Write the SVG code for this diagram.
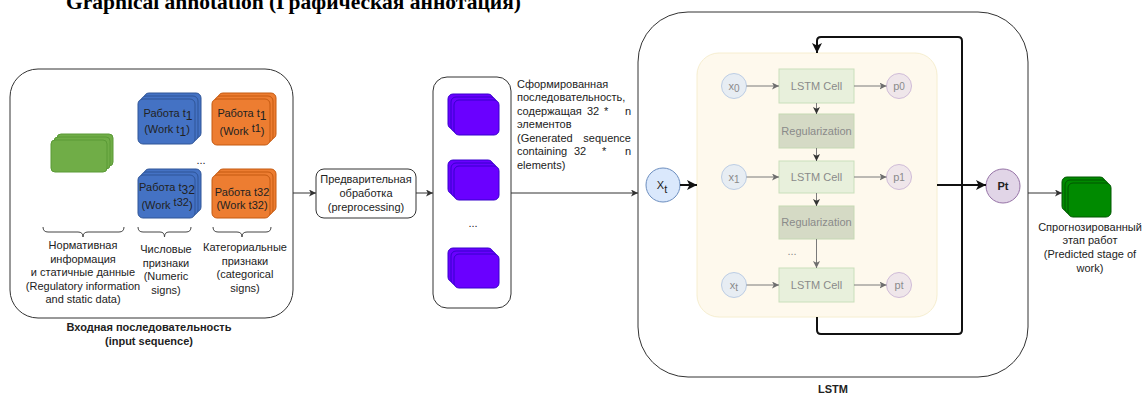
<svg xmlns="http://www.w3.org/2000/svg" width="1146" height="394" viewBox="0 0 1146 394">
  <style>
    .t { font-family: "Liberation Sans", Arial, sans-serif; font-size: 11px; fill: #222; }
    .c { text-anchor: middle; }
    .b { font-weight: bold; }
    .box { fill: #fff; stroke: #333; stroke-width: 1; }
    .ln { fill: none; stroke: #333; stroke-width: 1; }
    .thick { fill: none; stroke: #111; stroke-width: 2; }
    .gray { fill: none; stroke: #7a7a7a; stroke-width: 1; }
    .brace { fill: none; stroke: #444; stroke-width: 1; }
    .blue rect { fill: #4472c4; stroke: #2f5597; }
    .orange rect { fill: #ed7d31; stroke: #c55a11; }
    .green rect { fill: #70ad47; stroke: #5a9a36; }
    .purple rect { fill: #6a00ff; stroke: #3700cc; }
    .dkgreen rect { fill: #008a00; stroke: #005700; }
    .cell { fill: #e8f0dc; stroke: #c9e0bc; }
    .reg { fill: #d5dac5; stroke: #c5d9b4; }
    .xc { fill: #e7edf3; stroke: #bccde4; }
    .pc { fill: #efe6ea; stroke: #d0bcd8; }
    .ft { font-family: "Liberation Sans", Arial, sans-serif; font-size: 11px; fill: #8a8a8a; text-anchor: middle; }
  </style>
  <defs>
    <marker id="arr" markerUnits="userSpaceOnUse" markerWidth="8" markerHeight="8" refX="7" refY="3.5" orient="auto">
      <path d="M0,0 L7,3.5 L0,7 L1.8,3.5 z" fill="#333"/>
    </marker>
    <marker id="arrG" markerUnits="userSpaceOnUse" markerWidth="8" markerHeight="8" refX="7" refY="3.5" orient="auto">
      <path d="M0,0 L7,3.5 L0,7 L1.8,3.5 z" fill="#6e6e6e"/>
    </marker>
    <marker id="arrB" markerUnits="userSpaceOnUse" markerWidth="12" markerHeight="12" refX="10" refY="5" orient="auto">
      <path d="M0,0 L10,5 L0,10 L2.5,5 z" fill="#111"/>
    </marker>
  </defs>

  <!-- heading, partly above the page edge -->
  <text x="66" y="9" font-family="Liberation Serif, Times New Roman, serif" font-size="21.5" font-weight="bold" fill="#000">Graphical annotation (Графическая аннотация)</text>

  <!-- input sequence container -->
  <g id="input-sequence">
    <rect class="box" x="10" y="69" width="283" height="249" rx="28"/>
    <text class="t c b" x="149" y="331">Входная последовательность</text>
    <text class="t c b" x="149" y="345">(input sequence)</text>
  </g>

  <g id="static-data" class="green">
    <rect x="57" y="134" width="56" height="32" rx="4"/>
    <rect x="54" y="137" width="56" height="32" rx="4"/>
    <rect x="51" y="140" width="56" height="32" rx="4"/>
  </g>

  <g id="numeric-t1">
    <g class="blue">
      <rect x="144" y="93" width="57" height="45" rx="5"/>
      <rect x="141" y="96" width="57" height="45" rx="5"/>
      <rect x="138" y="99" width="57" height="45" rx="5"/>
    </g>
    <text class="t c" x="168" y="117">Работа t<tspan dy="3" font-size="12">1</tspan></text>
    <text class="t c" x="167" y="133">(Work t<tspan dy="3" font-size="12">1</tspan><tspan dy="-3">)</tspan></text>
  </g>

  <g id="numeric-t32">
    <g class="blue">
      <rect x="144" y="169" width="57" height="43" rx="5"/>
      <rect x="141" y="172" width="57" height="43" rx="5"/>
      <rect x="138" y="175" width="57" height="43" rx="5"/>
    </g>
    <text class="t c" x="167" y="191">Работа t<tspan dy="3" font-size="12">32</tspan></text>
    <text class="t c" x="167" y="209">(Work <tspan dy="-3">t32</tspan><tspan dy="3">)</tspan></text>
  </g>

  <g id="categorical-t1">
    <g class="orange">
      <rect x="218" y="93" width="58" height="46" rx="5"/>
      <rect x="215" y="96" width="58" height="46" rx="5"/>
      <rect x="212" y="99" width="58" height="46" rx="5"/>
    </g>
    <text class="t c" x="242" y="117">Работа t<tspan dy="3" font-size="12">1</tspan></text>
    <text class="t c" x="242" y="135">(Work <tspan dy="-3">t1</tspan><tspan dy="3">)</tspan></text>
  </g>

  <g id="categorical-t32">
    <g class="orange">
      <rect x="218" y="169" width="58" height="43" rx="5"/>
      <rect x="215" y="172" width="58" height="43" rx="5"/>
      <rect x="212" y="175" width="58" height="43" rx="5"/>
    </g>
    <text class="t c" x="242" y="196" font-size="12">Работа t32</text>
    <text class="t c" x="242" y="209" font-size="12">(Work t32)</text>
  </g>

  <text class="t c" x="201" y="164" font-size="9">...</text>

  <!-- braces and group captions -->
  <g id="static-caption">
    <path class="brace" d="M43,227 q0,5 5,5 h30 q5,0 5,5 q0,-5 5,-5 h31 q5,0 5,-5"/>
    <text class="t c" x="83" y="249">Нормативная</text>
    <text class="t c" x="83" y="263">информация</text>
    <text class="t c" x="83" y="276">и статичные данные</text>
    <text class="t c" x="83" y="290">(Regulatory information</text>
    <text class="t c" x="83" y="303">and static data)</text>
  </g>
  <g id="numeric-caption">
    <path class="brace" d="M138,227 q0,5 5,5 h17 q4.5,0 4.5,5 q0,-5 4.5,-5 h17 q5,0 5,-5"/>
    <text class="t c" x="166" y="253">Числовые</text>
    <text class="t c" x="166" y="267">признаки</text>
    <text class="t c" x="166" y="280">(Numeric</text>
    <text class="t c" x="166" y="294">signs)</text>
  </g>
  <g id="categorical-caption">
    <path class="brace" d="M213,227 q0,5 5,5 h19 q5,0 5,5 q0,-5 5,-5 h19 q5,0 5,-5"/>
    <text class="t c" x="245" y="251">Категориальные</text>
    <text class="t c" x="245" y="265">признаки</text>
    <text class="t c" x="245" y="278">(categorical</text>
    <text class="t c" x="245" y="292">signs)</text>
  </g>

  <!-- preprocessing step -->
  <g id="preprocessing">
    <rect class="box" x="316" y="169" width="100" height="49" rx="8"/>
    <text class="t c" x="366" y="183">Предварительная</text>
    <text class="t c" x="366" y="197">обработка</text>
    <text class="t c" x="366" y="211">(preprocessing)</text>
  </g>

  <!-- generated sequence -->
  <g id="generated-sequence">
    <rect class="box" x="433" y="77" width="78" height="231" rx="14"/>
    <g class="purple">
      <rect x="448" y="94" width="45" height="35" rx="5"/>
      <rect x="451" y="97" width="45" height="35" rx="5"/>
      <rect x="454" y="100" width="45" height="35" rx="5"/>
      <rect x="448" y="160" width="45" height="34" rx="5"/>
      <rect x="451" y="163" width="45" height="34" rx="5"/>
      <rect x="454" y="166" width="45" height="34" rx="5"/>
      <rect x="448" y="248" width="45" height="34" rx="5"/>
      <rect x="451" y="251" width="45" height="34" rx="5"/>
      <rect x="454" y="254" width="45" height="34" rx="5"/>
    </g>
    <text class="t c" x="473" y="227" font-size="9">...</text>
  </g>

  <g id="sequence-caption">
    <text class="t" x="517" y="88">Сформированная</text>
    <text class="t" x="517" y="101">последовательность,</text>
    <text class="t" x="517" y="115">содержащая</text>
    <text class="t" x="587" y="115">32</text>
    <text class="t" x="604" y="115">*</text>
    <text class="t" x="625" y="115">n</text>
    <text class="t" x="517" y="128">элементов</text>
    <text class="t" x="517" y="142">(Generated</text>
    <text class="t" x="631" y="142" text-anchor="end">sequence</text>
    <text class="t" x="517" y="155">containing</text>
    <text class="t" x="574" y="155">32</text>
    <text class="t" x="602" y="155">*</text>
    <text class="t" x="625" y="155">n</text>
    <text class="t" x="517" y="169">elements)</text>
  </g>

  <!-- LSTM block -->
  <g id="lstm">
    <rect class="box" x="638" y="12" width="390" height="365" rx="50"/>
    <text class="t c b" x="833" y="393">LSTM</text>
  </g>

  <g id="unrolled-cells">
    <rect x="697" y="53" width="240" height="264" rx="22" fill="#fef9ed" stroke="#f6eed0"/>
  </g>

  <g id="x0"><circle class="xc" cx="734" cy="86" r="12.5"/><text class="ft" x="734" y="90">x<tspan dy="2" font-size="10">0</tspan></text></g>
  <g id="x1"><circle class="xc" cx="734" cy="177" r="12.5"/><text class="ft" x="734" y="181">x<tspan dy="2" font-size="10">1</tspan></text></g>
  <g id="xt-small"><circle class="xc" cx="734" cy="285" r="12.5"/><text class="ft" x="734" y="289">x<tspan dy="2" font-size="10">t</tspan></text></g>

  <g id="cell-0"><rect class="cell" x="779" y="69" width="75" height="34"/><text class="ft" x="816.5" y="90">LSTM Cell</text></g>
  <g id="reg-0"><rect class="reg" x="779" y="114" width="75" height="34"/><text class="ft" x="816.5" y="135">Regularization</text></g>
  <g id="cell-1"><rect class="cell" x="779" y="161" width="75" height="32"/><text class="ft" x="816.5" y="181">LSTM Cell</text></g>
  <g id="reg-1"><rect class="reg" x="779" y="206" width="75" height="33"/><text class="ft" x="816.5" y="226">Regularization</text></g>
  <g id="cell-t"><rect class="cell" x="779" y="268" width="75" height="34"/><text class="ft" x="816.5" y="289">LSTM Cell</text></g>
  <text class="ft" x="792" y="255" font-size="8">...</text>

  <g id="p0"><circle class="pc" cx="899" cy="86" r="12.5"/><text class="ft" x="899" y="90">p<tspan font-size="10">0</tspan></text></g>
  <g id="p1"><circle class="pc" cx="899" cy="177" r="12.5"/><text class="ft" x="899" y="181">p<tspan font-size="10">1</tspan></text></g>
  <g id="pt-small"><circle class="pc" cx="899" cy="285" r="12.5"/><text class="ft" x="899" y="289">p<tspan font-size="10">t</tspan></text></g>

  <g id="xt">
    <circle cx="663" cy="185" r="17" fill="#dae8fc" stroke="#6c8ebf"/>
    <text class="t c" x="662" y="189" font-size="13" fill="#000">X<tspan dy="4" font-size="11">t</tspan></text>
  </g>

  <g id="pt">
    <circle cx="1003" cy="186" r="17" fill="#e1d5e7" stroke="#9673a6"/>
    <text class="t c" x="1003" y="190" font-size="11" font-weight="bold" fill="#333">Pt</text>
  </g>

  <g id="predicted-stage">
    <g class="dkgreen">
      <rect x="1062" y="177" width="43" height="34" rx="5"/>
      <rect x="1065" y="180" width="43" height="34" rx="5"/>
      <rect x="1068" y="183" width="43" height="34" rx="5"/>
    </g>
    <text class="t c" x="1090" y="231">Спрогнозированный</text>
    <text class="t c" x="1090" y="244">этап работ</text>
    <text class="t c" x="1090" y="258">(Predicted stage of</text>
    <text class="t c" x="1090" y="272">work)</text>
  </g>

  <!-- connectors -->
  <g id="connectors">
    <path class="ln" d="M293,193 H316" marker-end="url(#arr)"/>
    <path class="ln" d="M416,193 H433" marker-end="url(#arr)"/>
    <path class="ln" d="M511,193 H638" marker-end="url(#arr)"/>
    <path class="ln" d="M1028,193 H1062" marker-end="url(#arr)"/>
    <path class="thick" d="M680,185 H697" marker-end="url(#arrB)"/>
    <path class="thick" d="M937,185 H986" marker-end="url(#arrB)"/>
    <path class="thick" d="M817,317 V330 q0,4 4,4 H958 q4,0 4,-4 V41 q0,-4 -4,-4 H821 q-4,0 -4,4 V53" marker-end="url(#arrB)"/>

    <path class="gray" d="M746.5,86 H779" marker-end="url(#arrG)"/>
    <path class="gray" d="M854,86 H886.5" marker-end="url(#arrG)"/>
    <path class="gray" d="M746.5,177 H779" marker-end="url(#arrG)"/>
    <path class="gray" d="M854,177 H886.5" marker-end="url(#arrG)"/>
    <path class="gray" d="M746.5,285 H779" marker-end="url(#arrG)"/>
    <path class="gray" d="M854,285 H886.5" marker-end="url(#arrG)"/>
    <path class="gray" d="M816.5,103 V114" marker-end="url(#arr)"/>
    <path class="gray" d="M816.5,148 V161" marker-end="url(#arr)"/>
    <path class="gray" d="M816.5,193 V206" marker-end="url(#arr)"/>
    <path class="gray" d="M816.5,239 V268" marker-end="url(#arrG)"/>
  </g>
</svg>
